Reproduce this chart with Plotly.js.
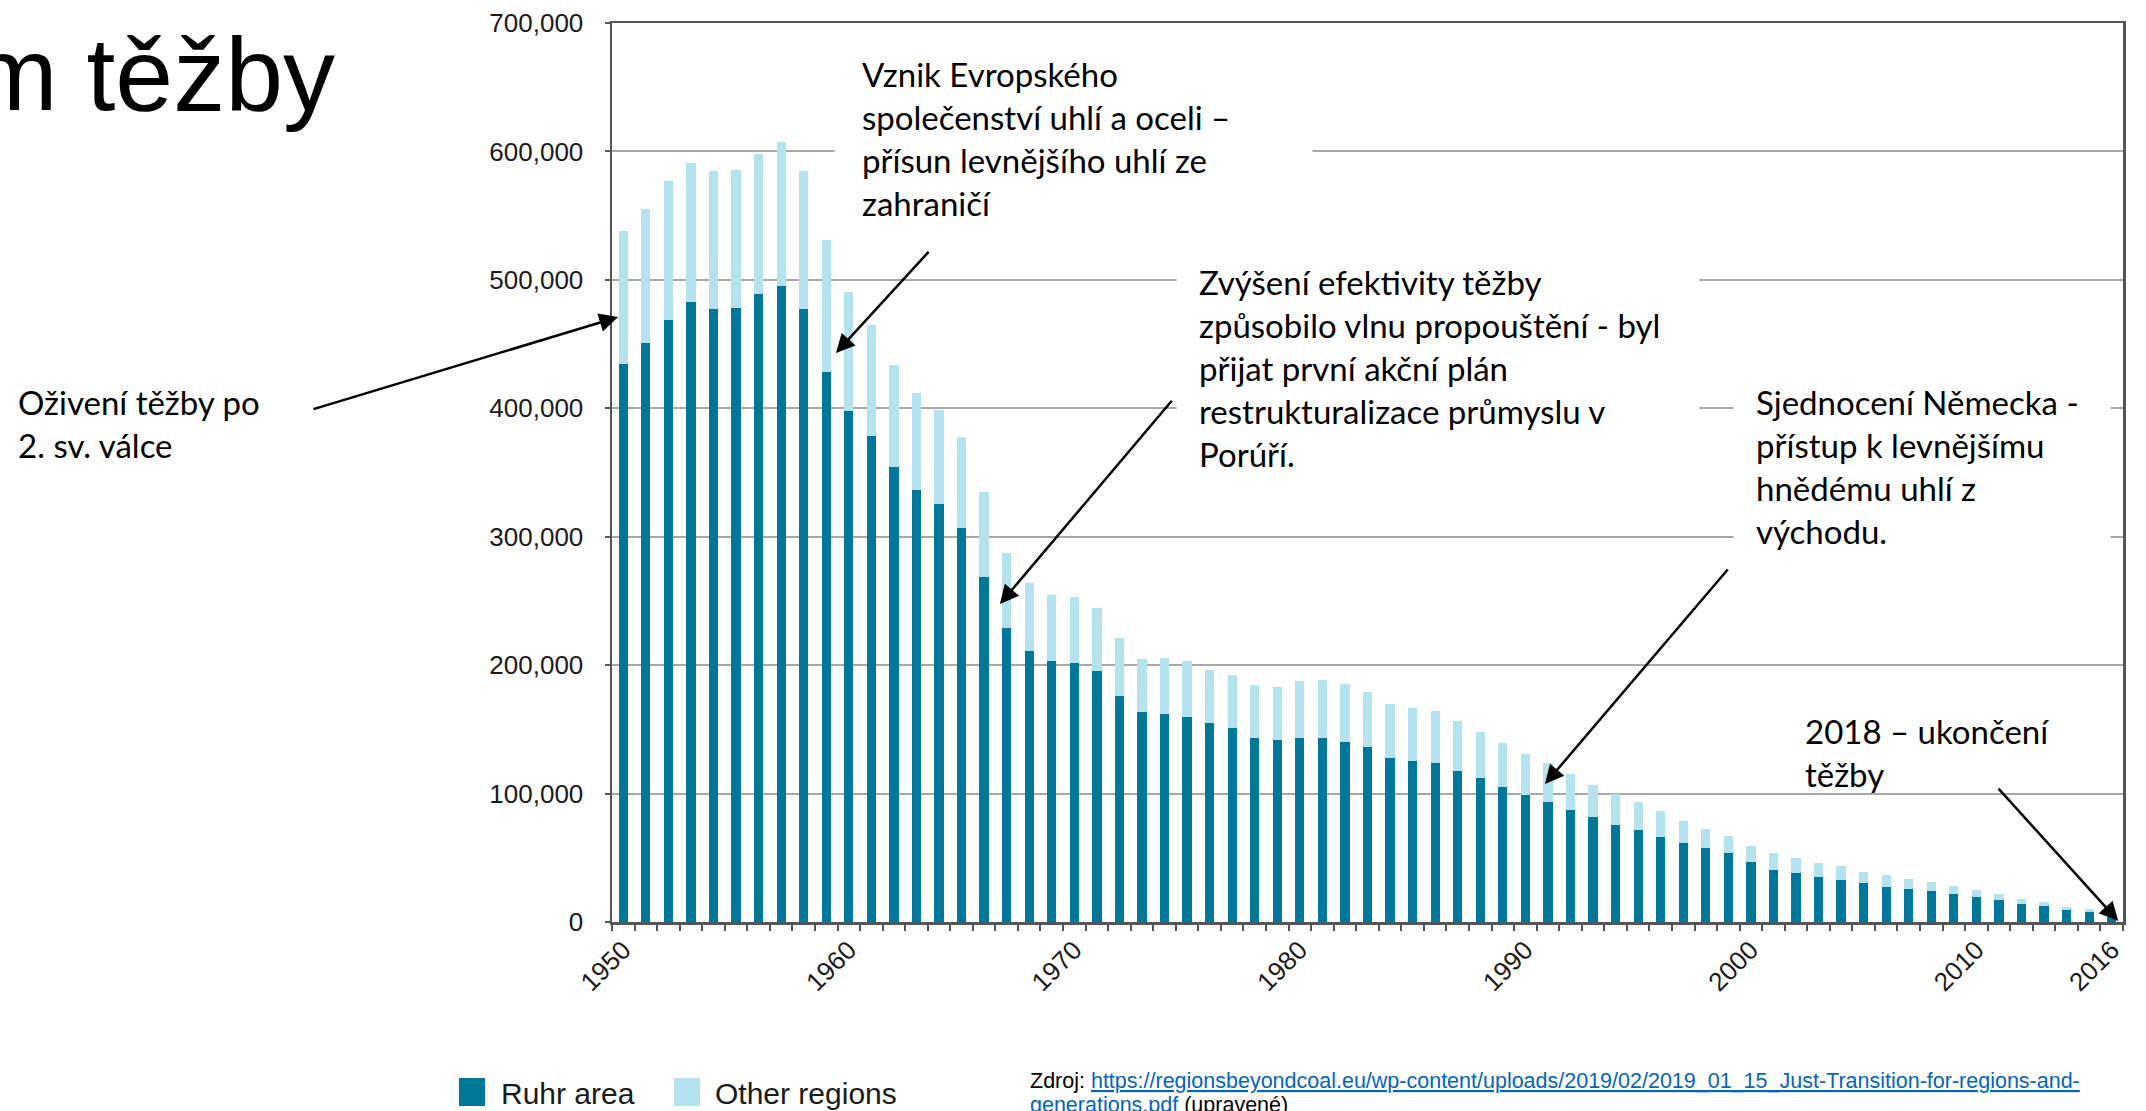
<!DOCTYPE html>
<html><head><meta charset="utf-8">
<script src="https://cdn.plot.ly/plotly-3.0.1.min.js"></script>
<style>html,body{margin:0;padding:0;background:#fff;}#chart{width:2146px;height:1111px;}</style>
</head><body><div id="chart"></div>
<script>
const years = [1950,1951,1952,1953,1954,1955,1956,1957,1958,1959,
  1960,1961,1962,1963,1964,1965,1966,1967,1968,1969,
  1970,1971,1972,1973,1974,1975,1976,1977,1978,1979,
  1980,1981,1982,1983,1984,1985,1986,1987,1988,1989,
  1990,1991,1992,1993,1994,1995,1996,1997,1998,1999,
  2000,2001,2002,2003,2004,2005,2006,2007,2008,2009,
  2010,2011,2012,2013,2014,2015,2016];

const ruhrArea = [434500,450600,469000,482900,477100,477900,489100,495600,477100,428600,
  397700,378700,354000,336500,325700,306500,268600,228600,210900,203600,
  201800,195100,175600,163400,162300,159700,155100,151200,143600,141800,
  143600,143400,140500,136100,127800,125500,123900,117400,112200,105000,
  99200,93500,87500,81800,75800,71400,65900,61200,57300,53400,
  46400,40700,37800,35200,32600,30200,27600,25500,24200,21600,
  19200,16900,14200,12700,9500,8000,4000];

const otherRegions = [103200,104400,107900,108300,107800,107300,108800,111400,107800,102800,
  92700,86500,80000,75700,73000,70900,65900,58700,53000,50900,
  51200,49300,45200,41500,42900,43200,41500,41300,40800,41100,
  43700,45400,45200,42900,41800,41300,40300,39500,36100,34700,
  32000,30100,28100,25000,23900,22100,20300,17700,15400,13300,
  12500,12700,11700,11000,10700,8900,8700,7700,6900,6600,
  5900,5100,3900,2500,2100,2500,800];

const xTickValues = [1950,1960,1970,1980,1990,2000,2010,2016];
const xTickLabels = ['1950','1960','1970','1980','1990','2000','2010','2016'];
const seriesNames = ['Ruhr area','Other regions'];
const seriesColors = ['#007699','#b4e2ee'];

const traces = [
  {type:'bar', name:seriesNames[0], x:years, y:ruhrArea, width:0.41,
   marker:{color:seriesColors[0], line:{width:0}}, showlegend:false, hoverinfo:'skip'},
  {type:'bar', name:seriesNames[1], x:years, y:otherRegions, width:0.41,
   marker:{color:seriesColors[1], line:{width:0}}, showlegend:false, hoverinfo:'skip'}
];

const tickFont = {family:'Liberation Sans, Arial, sans-serif', size:26, color:'#1a1a1a'};
const noteFont = {family:'Lato, Calibri, sans-serif', size:33, color:'#000'};

function arrow(hx, hy, tx, ty){
  return {xref:'x', yref:'y', axref:'x', ayref:'y', x:hx, y:hy, ax:tx, ay:ty,
    text:'', showarrow:true, arrowhead:2, arrowsize:1.5, arrowwidth:2.5,
    arrowcolor:'#000', standoff:0, startstandoff:0};
}

const annotations = [
  {xref:'paper', yref:'paper', x:0.1469, y:0.8710, xanchor:'left', yanchor:'middle', align:'left',
   text:'Vznik Evropského<br>společenství uhlí a oceli –<br>přísun levnějšího uhlí ze<br>zahraničí',
   showarrow:false, bgcolor:'#ffffff', borderpad:27, width:423, font:noteFont},
  {xref:'paper', yref:'paper', x:-0.3964, y:0.555, xanchor:'left', yanchor:'middle', align:'left',
   text:'Oživení těžby po<br>2. sv. válce', showarrow:false, borderpad:4, font:noteFont},
  {xref:'paper', yref:'paper', x:0.3733, y:0.6162, xanchor:'left', yanchor:'middle', align:'left',
   text:'Zvýšení efektivity těžby<br>způsobilo vlnu propouštění - byl<br>přijat první akční plán<br>restrukturalizace průmyslu v<br>Porúří.',
   showarrow:false, bgcolor:'#ffffff', borderpad:22, width:478, font:noteFont},
  {xref:'paper', yref:'paper', x:0.7420, y:0.5072, xanchor:'left', yanchor:'middle', align:'left',
   text:'Sjednocení Německa -<br>přístup k levnějšímu<br>hnědému uhlí z<br>východu.',
   showarrow:false, bgcolor:'#ffffff', borderpad:22, width:332, font:noteFont},
  {xref:'paper', yref:'paper', x:0.7889, y:0.188, xanchor:'left', yanchor:'middle', align:'left',
   text:'2018 – ukončení<br>těžby', showarrow:false, borderpad:0, font:noteFont},
  arrow(1959.43, 443000, 1963.6, 523000),
  arrow(1949.77, 471000, 1936.2, 399000),
  arrow(1966.7, 247600, 1974.38, 407000),
  arrow(1990.87, 107400, 1999.03, 275600),
  arrow(2016.29, 800, 2010.92, 105000),
  {xref:'paper', yref:'paper', x:-0.0741, y:-0.1913, xanchor:'left', yanchor:'middle',
   text:seriesNames[0], showarrow:false, borderpad:0,
   font:{family:'Liberation Sans, Arial, sans-serif', size:30, color:'#1a1a1a'}},
  {xref:'paper', yref:'paper', x:0.0675, y:-0.1913, xanchor:'left', yanchor:'middle',
   text:seriesNames[1], showarrow:false, borderpad:0,
   font:{family:'Liberation Sans, Arial, sans-serif', size:30, color:'#1a1a1a'}},
  {xref:'paper', yref:'paper', x:0.276, y:-0.1769, xanchor:'left', yanchor:'middle', align:'left',
   text:'Zdroj: <span style="color:#0563c1"><u>https://regionsbeyondcoal.eu/wp-content/uploads/2019/02/2019_01_15_Just-Transition-for-regions-and-</u></span>',
   showarrow:false, borderpad:0,
   font:{family:'Liberation Sans, Arial, sans-serif', size:21.5, color:'#000'}},
  {xref:'paper', yref:'paper', x:0.276, y:-0.2036, xanchor:'left', yanchor:'middle', align:'left',
   text:'<span style="color:#0563c1"><u>generations.pdf</u></span> (upravené)',
   showarrow:false, borderpad:0,
   font:{family:'Liberation Sans, Arial, sans-serif', size:21.5, color:'#000'}}
];

const shapes = [
  {type:'rect', xref:'paper', yref:'paper', x0:-0.1013, x1:-0.0840, y0:-0.2047, y1:-0.1735,
   fillcolor:seriesColors[0], line:{width:0}},
  {type:'rect', xref:'paper', yref:'paper', x0:0.0410, x1:0.0582, y0:-0.2047, y1:-0.1735,
   fillcolor:seriesColors[1], line:{width:0}}
];

const layout = {
  width:2146, height:1111,
  margin:{l:612, r:23, t:23, b:189, pad:0},
  paper_bgcolor:'#ffffff', plot_bgcolor:'#ffffff',
  barmode:'stack',
  showlegend:false,
  title:{text:'m těžby', font:{family:'Liberation Sans, Arial, sans-serif', size:104, color:'#000'},
    xref:'container', yref:'container', x:0.1561, xanchor:'right', y:0.9334, yanchor:'middle'},
  xaxis:{type:'linear', range:[1949.5, 2016.5], tickmode:'array', tickvals:xTickValues, ticktext:xTickLabels,
    tickangle:-45, tickfont:tickFont, ticks:'', showgrid:false, zeroline:false,
    showline:true, linecolor:'#555555', linewidth:2.5, mirror:true,
    minor:{tickmode:'linear', tick0:1949.5, dtick:1, ticks:'outside', ticklen:6, tickwidth:2,
      tickcolor:'#555555', showgrid:false}},
  yaxis:{range:[0,700000], tickmode:'linear', tick0:0, dtick:100000, tickformat:',',
    tickfont:tickFont, ticks:'outside', ticklen:5, tickwidth:2, tickcolor:'#555555',
    showgrid:true, gridcolor:'#a8a8a8', gridwidth:2, zeroline:false,
    showline:true, linecolor:'#555555', linewidth:2.5, mirror:true, ticklabelstandoff:16},
  annotations:annotations,
  shapes:shapes
};

Plotly.newPlot('chart', traces, layout, {staticPlot:true, displayModeBar:false});
</script>
</body></html>
